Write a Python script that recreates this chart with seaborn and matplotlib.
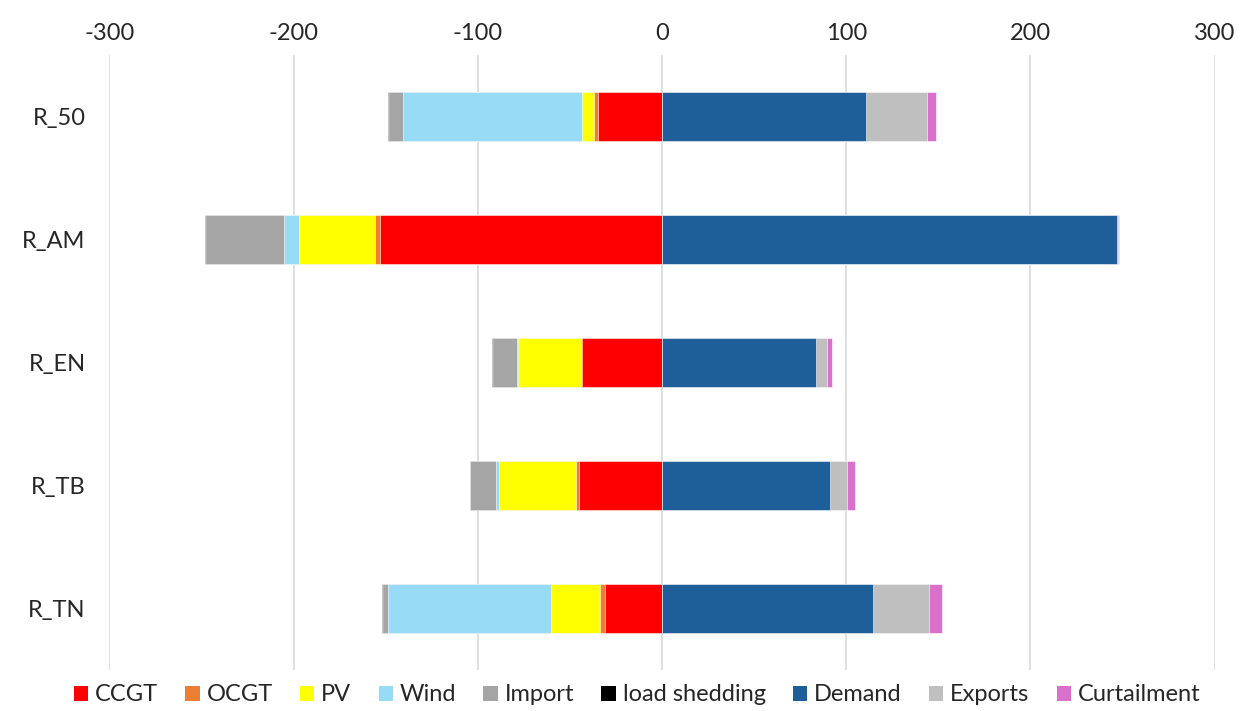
import numpy as np
import pandas as pd
import seaborn as sns
import matplotlib.pyplot as plt
from matplotlib.patches import Patch

# regions and values
regions = ['R_50', 'R_AM', 'R_EN', 'R_TB', 'R_TN']

# supply side (drawn to the left, as negatives)
ccgt = [34.7, 153.2, 43.5, 45.0, 30.9]
ocgt = [2.0, 2.7, 0.7, 1.6, 2.7]
pv = [6.7, 41.2, 34.1, 41.7, 26.6]
wind = [97.4, 8.3, 0.2, 1.6, 88.7]
imports = [7.2, 42.0, 13.2, 14.1, 2.3]
load_shedding = [0.5, 0.5, 0.4, 0.4, 0.8]

# use side (drawn to the right)
demand = [110.7, 247.0, 83.8, 91.1, 114.5]
exports = [33.1, 0.4, 5.7, 9.4, 30.6]
curtailment = [4.7, 0.5, 2.7, 4.3, 7.0]

colors = {
    'CCGT': '#FF0000', 'OCGT': '#ED7D31', 'PV': '#FFFF00', 'Wind': '#97DBF7',
    'Import': '#A5A5A5', 'load shedding': '#000000',
    'Demand': '#1F5F99', 'Exports': '#BFBFBF', 'Curtailment': '#D971CC',
}

neg = pd.DataFrame({'Region': regions, 'CCGT': ccgt, 'OCGT': ocgt, 'PV': pv,
                    'Wind': wind, 'Import': imports, 'load shedding': load_shedding})
pos = pd.DataFrame({'Region': regions, 'Demand': demand, 'Exports': exports,
                    'Curtailment': curtailment})

neg_order = ['CCGT', 'OCGT', 'PV', 'Wind', 'Import', 'load shedding']
pos_order = ['Demand', 'Exports', 'Curtailment']

# cumulative ends, so each layer can be drawn outermost first
neg_cum = -neg[neg_order].cumsum(axis=1)
pos_cum = pos[pos_order].cumsum(axis=1)

sns.set_style('white')
plt.rcParams['font.family'] = ['Lato', 'DejaVu Sans']
plt.rcParams['axes.unicode_minus'] = False

fig, ax = plt.subplots(figsize=(12.42, 7.11), dpi=100)
fig.subplots_adjust(left=0.088, right=0.978, top=0.923, bottom=0.058)

for col in reversed(neg_order):
    sns.barplot(x=neg_cum[col], y=neg['Region'], orient='h', color=colors[col],
                width=0.4, saturation=1, edgecolor='white', linewidth=0.4, ax=ax)
for col in reversed(pos_order):
    sns.barplot(x=pos_cum[col], y=pos['Region'], orient='h', color=colors[col],
                width=0.4, saturation=1, edgecolor='white', linewidth=0.4, ax=ax)

ax.set_xlim(-300, 300)
ax.set_xticks(np.arange(-300, 301, 100))
ax.xaxis.tick_top()
ax.grid(axis='x', color='#D9D9D9', linewidth=1.2)
ax.set_axisbelow(True)
for s in ax.spines.values():
    s.set_visible(False)
ax.tick_params(axis='both', length=0, labelsize=17, pad=8)
ax.tick_params(axis='y', pad=17)
ax.set_xlabel('')
ax.set_ylabel('')

handles = [Patch(facecolor=colors[k], edgecolor='none', label=k)
           for k in neg_order + pos_order]
fig.legend(handles=handles, loc='lower center', ncol=9, frameon=False,
           fontsize=17, handlelength=0.6, handleheight=0.6, handletextpad=0.3,
           columnspacing=1.15, bbox_to_anchor=(0.513, -0.022))

fig.savefig('out.png', dpi=100)
